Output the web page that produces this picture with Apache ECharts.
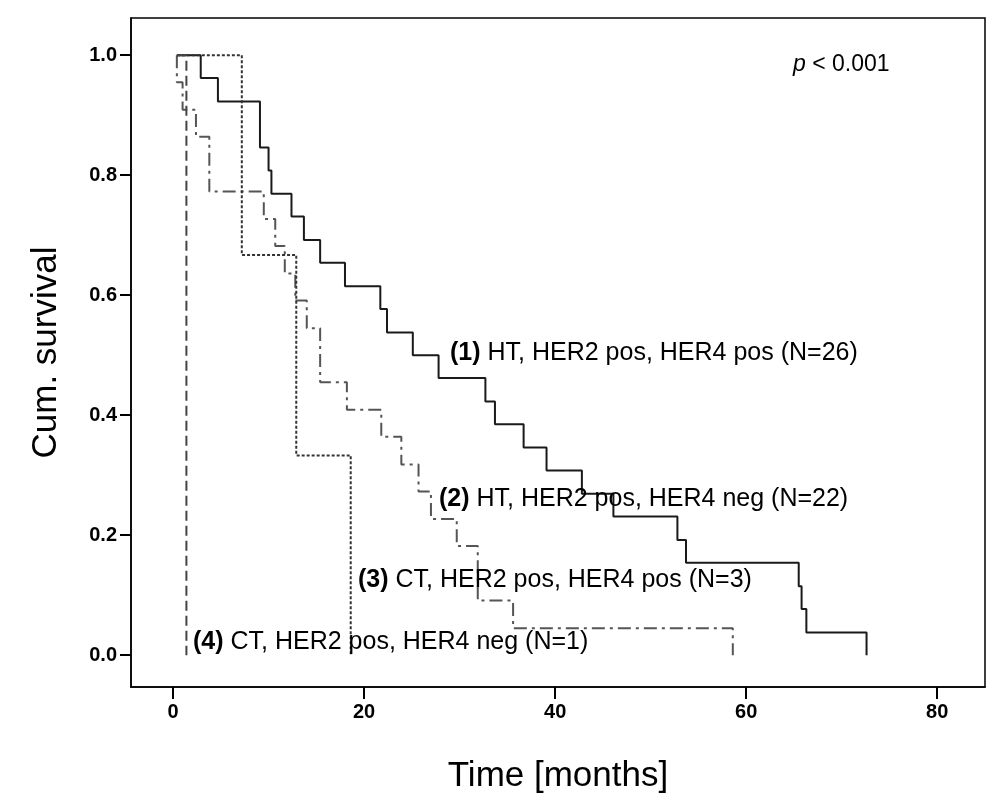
<!DOCTYPE html>
<html lang="en">

<head>
    <meta charset="UTF-8">
    <title>Cum. survival</title>
    <script src="https://cdn.jsdelivr.net/npm/echarts@6/dist/echarts.min.js"></script>
    <style type="text/css">
        html, body { margin: 0; padding: 0; background: #fff; }
        #main { width: 1004px; height: 806px; }
    </style>
</head>

<body>
    <div id="main"></div>
    <script type="text/javascript">
    // tick labels
    var xTicks = [0, 20, 40, 60, 80];
    var yTicks = [0, 0.2, 0.4, 0.6, 0.8, 1.0];

    // (1) HT, HER2 pos, HER4 pos
    var t1 = [0.4, 2.9, 4.7, 9.1, 10.0, 10.3, 12.4, 13.7, 15.4, 18.0, 21.7, 22.4, 25.1, 27.8, 32.7, 33.7, 36.7, 39.1, 42.8, 46.1, 52.8, 53.7, 65.5, 65.8, 66.3, 72.6];
    var s1 = [1.0, 0.962, 0.923, 0.846, 0.808, 0.769, 0.731, 0.692, 0.654, 0.615, 0.577, 0.538, 0.500, 0.462, 0.423, 0.385, 0.346, 0.308, 0.269, 0.231, 0.192, 0.154, 0.115, 0.077, 0.038, 0.0];

    // (2) HT, HER2 pos, HER4 neg
    var t2 = [0.4, 0.4, 1.0, 2.4, 3.8, 9.5, 10.7, 11.7, 12.8, 14.0, 15.4, 18.2, 21.8, 23.9, 25.7, 27.0, 29.7, 31.9, 35.6, 58.6];
    var s2 = [1.0, 0.955, 0.909, 0.864, 0.773, 0.727, 0.682, 0.636, 0.591, 0.545, 0.455, 0.409, 0.364, 0.318, 0.273, 0.227, 0.182, 0.091, 0.045, 0.0];

    // (3) CT, HER2 pos, HER4 pos
    var t3 = [0.4, 7.2, 12.9, 18.6];
    var s3 = [1.0, 0.667, 0.333, 0.0];

    // (4) CT, HER2 pos, HER4 neg
    var t4 = [0.4, 1.4];
    var s4 = [1.0, 0.0];

    function pairs(t, s) {
        var out = [];
        for (var i = 0; i < t.length; i++) {
            out.push([t[i], s[i]]);
        }
        return out;
    }

    var font = 'Liberation Sans, Arial, sans-serif';
    var myChart = echarts.init(document.getElementById('main'));

    function label(text, x, y) {
        return {
            type: 'text', left: x, top: y, z: 100,
            style: {
                text: text,
                font: '25px ' + font, fill: '#000',
                rich: { b: { fontWeight: 'bold', fontSize: 25, fontFamily: font } }
            }
        };
    }

    var option = {
        animation: false,
        backgroundColor: '#fff',
        grid: {
            left: 131,
            right: 19,
            top: 18,
            bottom: 119,
            show: true,
            borderColor: '#000',
            borderWidth: 1.5
        },
        xAxis: {
            type: 'value',
            min: -4.4,
            max: 85,
            name: 'Time [months]',
            nameLocation: 'middle',
            nameGap: 72,
            nameTextStyle: { fontFamily: font, fontSize: 35, color: '#000' },
            axisLine: { show: true, onZero: false, lineStyle: { color: '#000', width: 1.5 } },
            axisTick: { show: true, customValues: xTicks, length: 12, lineStyle: { color: '#000', width: 2 } },
            axisLabel: {
                customValues: xTicks,
                margin: 15,
                fontFamily: font,
                fontSize: 20,
                fontWeight: 'bold',
                color: '#000'
            },
            splitLine: { show: false }
        },
        yAxis: {
            type: 'value',
            min: -0.053,
            max: 1.062,
            name: 'Cum. survival',
            nameLocation: 'middle',
            nameGap: 67,
            nameTextStyle: { fontFamily: font, fontSize: 35, color: '#000' },
            axisLine: { show: true, onZero: false, lineStyle: { color: '#000', width: 1.5 } },
            axisTick: { show: true, customValues: yTicks, length: 11, lineStyle: { color: '#000', width: 2 } },
            axisLabel: {
                customValues: yTicks,
                margin: 14,
                fontFamily: font,
                fontSize: 20,
                fontWeight: 'bold',
                color: '#000',
                formatter: function (v) { return v.toFixed(1); }
            },
            splitLine: { show: false }
        },
        series: [{
            name: '(1)',
            type: 'line',
            step: 'end',
            symbol: 'none',
            data: pairs(t1, s1),
            lineStyle: { color: '#1a1a1a', width: 2, type: 'solid' }
        }, {
            name: '(2)',
            type: 'line',
            step: 'end',
            symbol: 'none',
            data: pairs(t2, s2),
            lineStyle: { color: '#555', width: 2, type: [13, 5, 3, 5] }
        }, {
            name: '(3)',
            type: 'line',
            step: 'end',
            symbol: 'none',
            data: pairs(t3, s3),
            lineStyle: { color: '#333', width: 2, type: [3, 2] }
        }, {
            name: '(4)',
            type: 'line',
            step: 'end',
            symbol: 'none',
            data: pairs(t4, s4),
            lineStyle: { color: '#444', width: 2, type: [10, 5] }
        }],
        graphic: [
            label('{b|(1)} HT, HER2 pos, HER4 pos (N=26)', 450, 341),
            label('{b|(2)} HT, HER2 pos, HER4 neg (N=22)', 439, 487),
            label('{b|(3)} CT, HER2 pos, HER4 pos (N=3)', 358, 568),
            label('{b|(4)} CT, HER2 pos, HER4 neg (N=1)', 193, 630),
            {
                type: 'text', left: 793, top: 53, z: 100,
                style: {
                    text: '{i|p} < 0.001',
                    font: '23px ' + font, fill: '#000',
                    rich: { i: { fontStyle: 'italic', fontSize: 23, fontFamily: font } }
                }
            }
        ]
    };

    myChart.setOption(option);
    </script>
</body>

</html>
